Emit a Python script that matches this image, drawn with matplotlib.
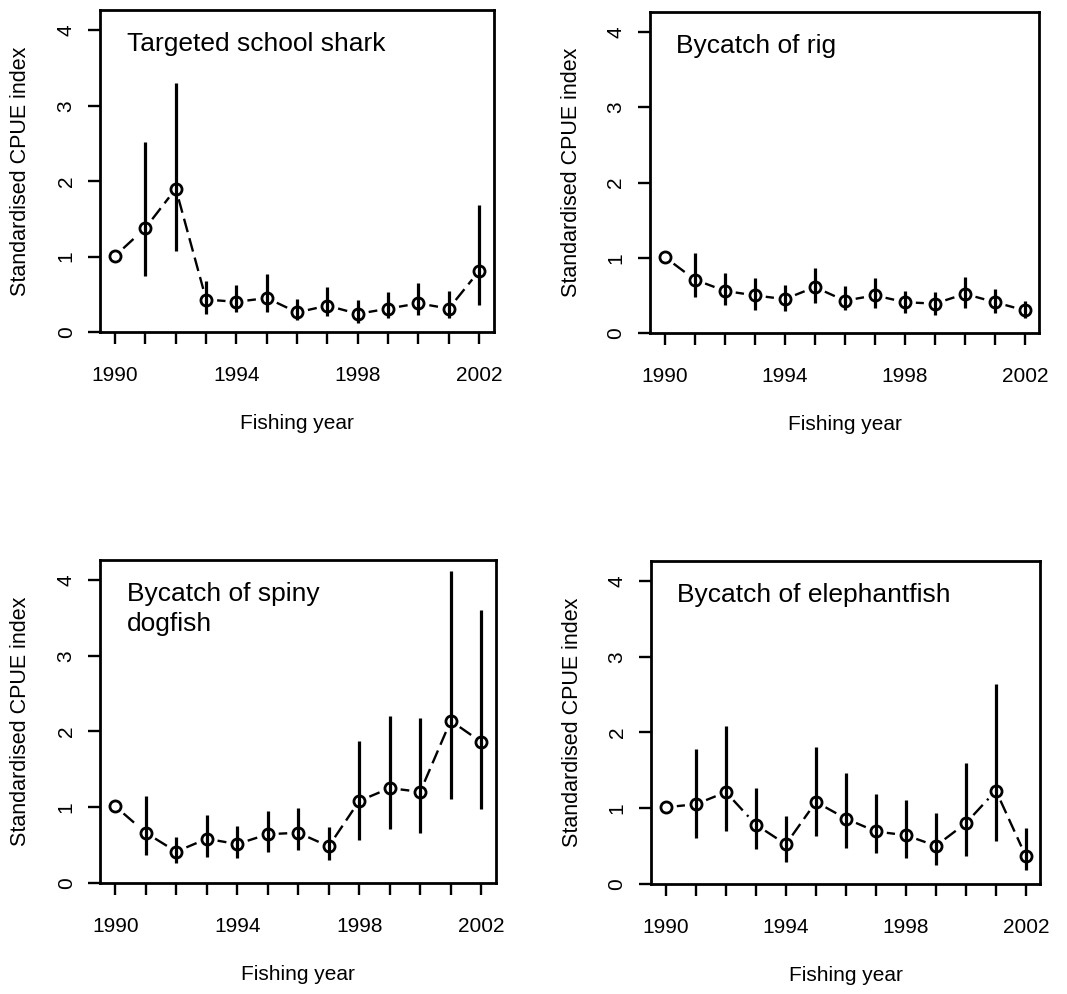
import numpy as np
import matplotlib
matplotlib.use("Agg")
import matplotlib.pyplot as plt

plt.rcParams['font.family'] = ['Liberation Sans', 'DejaVu Sans']
plt.rcParams['lines.scale_dashes'] = False

years = list(range(1990, 2003))

# standardised CPUE index with lower / upper bounds, one set per species
shark_idx = [1.01, 1.38, 1.90, 0.43, 0.40, 0.45, 0.26, 0.35, 0.24, 0.31, 0.38, 0.31, 0.81]
shark_lo  = [1.01, 0.74, 1.07, 0.24, 0.26, 0.26, 0.16, 0.21, 0.12, 0.18, 0.22, 0.18, 0.36]
shark_hi  = [1.01, 2.52, 3.30, 0.68, 0.62, 0.77, 0.44, 0.59, 0.43, 0.53, 0.65, 0.55, 1.68]

rig_idx = [1.01, 0.71, 0.56, 0.50, 0.45, 0.61, 0.43, 0.50, 0.41, 0.39, 0.52, 0.41, 0.30]
rig_lo  = [1.01, 0.48, 0.37, 0.31, 0.29, 0.40, 0.30, 0.33, 0.26, 0.24, 0.33, 0.26, 0.20]
rig_hi  = [1.01, 1.06, 0.80, 0.73, 0.64, 0.86, 0.62, 0.73, 0.56, 0.55, 0.75, 0.58, 0.43]

dogfish_idx = [1.01, 0.66, 0.41, 0.58, 0.51, 0.64, 0.66, 0.48, 1.08, 1.25, 1.20, 2.14, 1.86]
dogfish_lo  = [1.01, 0.36, 0.26, 0.34, 0.33, 0.41, 0.43, 0.30, 0.57, 0.71, 0.65, 1.10, 0.97]
dogfish_hi  = [1.01, 1.14, 0.61, 0.90, 0.75, 0.95, 0.99, 0.73, 1.87, 2.20, 2.18, 4.12, 3.61]

eleph_idx = [1.01, 1.05, 1.21, 0.78, 0.52, 1.08, 0.86, 0.69, 0.64, 0.50, 0.80, 1.23, 0.36]
eleph_lo  = [1.01, 0.61, 0.69, 0.46, 0.29, 0.63, 0.47, 0.40, 0.34, 0.25, 0.37, 0.56, 0.18]
eleph_hi  = [1.01, 1.78, 2.09, 1.27, 0.89, 1.80, 1.46, 1.19, 1.11, 0.94, 1.60, 2.64, 0.73]

titles = ["Targeted school shark", "Bycatch of rig",
          "Bycatch of spiny\ndogfish", "Bycatch of elephantfish"]

year_labels = ["1990", "", "", "", "1994", "", "", "", "1998", "", "", "", "2002"]
y_ticks = [0, 1, 2, 3, 4]

panels = [
    (shark_idx, shark_lo, shark_hi),
    (rig_idx, rig_lo, rig_hi),
    (dogfish_idx, dogfish_lo, dogfish_hi),
    (eleph_idx, eleph_lo, eleph_hi),
]

# axes rectangles in figure fractions: left, bottom, width, height
boxes = [
    [0.0937, 0.666, 0.369, 0.324],
    [0.609, 0.665, 0.365, 0.323],
    [0.0937, 0.112, 0.371, 0.325],
    [0.610, 0.111, 0.365, 0.325],
]


def gapped_line(ax, x, y, gap=11, on=10.0, off=4.5):
    # dashed segments between points, cut short around each point
    pts = ax.transData.transform(np.column_stack([x, y]))
    inv = ax.transData.inverted()
    for p0, p1 in zip(pts[:-1], pts[1:]):
        d = p1 - p0
        L = np.hypot(d[0], d[1])
        if L <= 2 * gap:
            continue
        u = d / L
        a = inv.transform(p0 + u * gap)
        b = inv.transform(p1 - u * gap)
        ax.plot([a[0], b[0]], [a[1], b[1]], color='black', lw=1.7,
                linestyle=(0, (on, off)), solid_capstyle='butt',
                dash_capstyle='butt')


fig = plt.figure(figsize=(10.67, 9.94), dpi=100)

for (idx, lo, hi), box, title in zip(panels, boxes, titles):
    ax = fig.add_axes(box)
    ax.set_xlim(1989.5, 2002.48)
    ax.set_ylim(0, 4.27)

    idx = np.array(idx)
    lo = np.array(lo)
    hi = np.array(hi)

    gapped_line(ax, years, idx)
    ax.vlines(years, lo, hi, color='black', lw=2.3, capstyle='butt', zorder=3)
    ax.plot(years, idx, 'o', ms=8, mfc='none', mec='black', mew=2.0, zorder=4)

    ax.text(0.068, 0.93, title, transform=ax.transAxes, ha='left', va='top',
            fontsize=19, linespacing=1.3)

    ax.set_xticks(years)
    ax.set_xticklabels(year_labels, fontsize=15)
    ax.set_yticks(y_ticks)
    ax.set_yticklabels([str(t) for t in y_ticks], fontsize=15,
                       rotation=90, va='center')
    ax.tick_params(axis='both', length=8.5, width=1.7, direction='out')
    ax.tick_params(axis='x', pad=16)
    ax.tick_params(axis='y', pad=9)
    for s in ax.spines.values():
        s.set_linewidth(2.0)

    ax.set_xlabel("Fishing year", fontsize=15)
    ax.set_ylabel("Standardised CPUE index", fontsize=15.5)
    ax.xaxis.set_label_coords(0.5, -0.255)
    ax.yaxis.set_label_coords(-0.175, 0.5)

fig.savefig("out.png", dpi=100)
